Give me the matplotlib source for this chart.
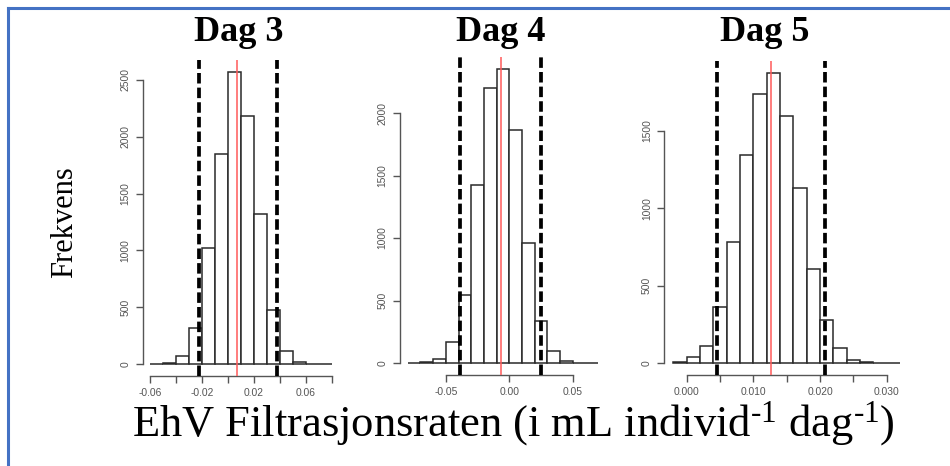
import matplotlib
matplotlib.use("Agg")
import matplotlib.pyplot as plt
from matplotlib.lines import Line2D

plt.rcParams['mathtext.fontset'] = 'custom'
plt.rcParams['mathtext.rm'] = 'Liberation Serif'
plt.rcParams['mathtext.it'] = 'Liberation Serif:italic'

W, H = 950, 466

# ---------------- data ----------------
titles = ["Dag 3", "Dag 4", "Dag 5"]

dag3_edges = [-0.06, -0.05, -0.04, -0.03, -0.02, -0.01, 0.00, 0.01, 0.02, 0.03, 0.04, 0.05, 0.06, 0.07, 0.08]
dag3_counts = [2, 10, 70, 315, 1018, 1846, 2573, 2186, 1320, 475, 114, 22, 4, 1]
dag3_ci = [-0.0226, 0.0379]
dag3_mean = 0.0072
dag3_xticks = [-0.06, -0.04, -0.02, 0.00, 0.02, 0.04, 0.06, 0.08]
dag3_xlabels = ["-0.06", "", "-0.02", "", "0.02", "", "0.06", ""]
dag3_yticks = [0, 500, 1000, 1500, 2000, 2500]

dag4_edges = [-0.08, -0.07, -0.06, -0.05, -0.04, -0.03, -0.02, -0.01, 0.00, 0.01, 0.02, 0.03, 0.04, 0.05, 0.06, 0.07]
dag4_counts = [1, 6, 32, 165, 544, 1427, 2203, 2352, 1867, 960, 339, 93, 19, 3, 1]
dag4_ci = [-0.0387, 0.0246]
dag4_mean = -0.0068
dag4_xticks = [-0.05, 0.00, 0.05]
dag4_xlabels = ["-0.05", "0.00", "0.05"]
dag4_yticks = [0, 500, 1000, 1500, 2000]

dag5_edges = [-0.002, 0.000, 0.002, 0.004, 0.006, 0.008, 0.010, 0.012, 0.014, 0.016, 0.018,
              0.020, 0.022, 0.024, 0.026, 0.028, 0.030, 0.032]
dag5_counts = [6, 41, 112, 362, 779, 1347, 1741, 1877, 1599, 1132, 609, 275, 97, 22, 6, 2, 1]
dag5_ci = [0.0045, 0.0208]
dag5_mean = 0.0126
dag5_xticks = [0.000, 0.005, 0.010, 0.015, 0.020, 0.025, 0.030]
dag5_xlabels = ["0.000", "", "0.010", "", "0.020", "", "0.030"]
dag5_yticks = [0, 500, 1000, 1500]

panels = [
    dict(edges=dag3_edges, counts=dag3_counts, ci=dag3_ci, mean=dag3_mean,
         xticks=dag3_xticks, xlabels=dag3_xlabels, yticks=dag3_yticks,
         box=(142.7, 60.0, 339.3, 375.7), title_x=239),
    dict(edges=dag4_edges, counts=dag4_counts, ci=dag4_ci, mean=dag4_mean,
         xticks=dag4_xticks, xlabels=dag4_xlabels, yticks=dag4_yticks,
         box=(400.1, 57.3, 605.8, 374.8), title_x=501),
    dict(edges=dag5_edges, counts=dag5_counts, ci=dag5_ci, mean=dag5_mean,
         xticks=dag5_xticks, xlabels=dag5_xlabels, yticks=dag5_yticks,
         box=(664.3, 61.0, 909.1, 374.6), title_x=765),
]

fig = plt.figure(figsize=(W / 100, H / 100), dpi=100)
fig.patch.set_facecolor("white")

axis_col = "#555555"
for p, title in zip(panels, titles):
    x0, y0, x1, y1 = p["box"]
    ax = fig.add_axes([x0 / W, 1 - y1 / H, (x1 - x0) / W, (y1 - y0) / H])
    edges = p["edges"]
    counts = p["counts"]
    widths = [edges[i + 1] - edges[i] for i in range(len(counts))]
    ax.bar(edges[:-1], counts, width=widths, align="edge", color="white",
           edgecolor="#2a2a2a", linewidth=1.1, zorder=2)
    lo, hi = edges[0], edges[-1]
    rng = hi - lo
    ax.set_xlim(lo - 0.04 * rng, hi + 0.04 * rng)
    M = max(counts)
    ax.set_ylim(-0.04 * M, 1.04 * M)
    for v in p["ci"]:
        ax.axvline(v, color="black", lw=2.7, linestyle=(0, (2.8, 1.1)), zorder=3)
    ax.axvline(p["mean"], color="#ff5a5a", lw=1.1, zorder=4)

    for s in ["top", "right"]:
        ax.spines[s].set_visible(False)
    for s in ["bottom", "left"]:
        ax.spines[s].set_color(axis_col)
        ax.spines[s].set_linewidth(1.0)
    ax.spines["bottom"].set_bounds(p["xticks"][0], p["xticks"][-1])
    ax.spines["left"].set_bounds(p["yticks"][0], p["yticks"][-1])
    ax.set_xticks(p["xticks"])
    ax.set_xticklabels(p["xlabels"])
    ax.set_yticks(p["yticks"])
    ax.set_yticklabels([str(v) for v in p["yticks"]], rotation=90, va="center")
    ax.tick_params(axis="both", direction="out", length=5, width=1.0, color=axis_col,
                   labelcolor=axis_col, labelsize=7.4, pad=4)
    for lab in ax.get_xticklabels() + ax.get_yticklabels():
        lab.set_family(["Liberation Sans", "DejaVu Sans"])
    ax.patch.set_visible(False)

    fig.text(p["title_x"] / W, 1 - 41 / H, title, ha="center", va="baseline",
             family=["Liberation Serif", "DejaVu Serif"], fontweight="bold", fontsize=26)

fig.text(65 / W, 1 - 222 / H, "Frekvens", rotation=90, ha="center", va="center",
         family=["Liberation Serif", "DejaVu Serif"], fontsize=22)

fig.text(513 / W, 1 - 436 / H,
         r"EhV Filtrasjonsraten (i mL individ$^{\text{-1}}$ dag$^{\text{-1}}$)",
         ha="center", va="baseline", family=["Liberation Serif", "DejaVu Serif"], fontsize=32)

# blue frame (top and left edges)
fig.add_artist(Line2D([7.5 / W, 7.5 / W], [0, 1 - 7.5 / H], transform=fig.transFigure,
                      color="#4472C4", lw=2.2))
fig.add_artist(Line2D([7.5 / W, 1], [1 - 7.5 / H, 1 - 7.5 / H], transform=fig.transFigure,
                      color="#4472C4", lw=2.2))

fig.savefig("out.png", dpi=100)
